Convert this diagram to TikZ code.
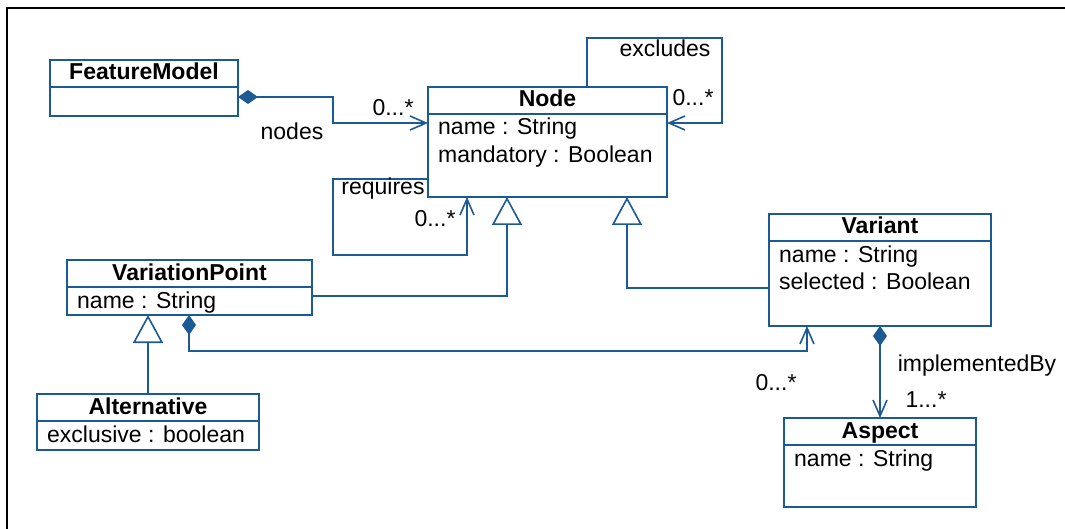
\documentclass[tikz,border=0pt]{standalone}
\usepackage{fontspec}
\setmainfont{Liberation Sans}
\usetikzlibrary{arrows.meta}

\definecolor{umlblue}{RGB}{28,90,150}
\newcommand{\umlfont}{\fontsize{23}{28}\selectfont}
\tikzstyle{classbox}=[draw=umlblue,line width=1.6pt,rectangle,anchor=north west,inner sep=0pt,outer sep=0pt]
\tikzstyle{classname}=[font=\umlfont\bfseries,anchor=base,inner sep=0pt]
\tikzstyle{attr}=[anchor=base west,inner sep=0pt]
\tikzstyle{role}=[anchor=base,inner sep=0pt]
\tikzstyle{link}=[draw=umlblue,line width=1.6pt]
\tikzstyle{inherit}=[link,-{Triangle[open,length=28pt,width=30pt]}]
\tikzstyle{owns}=[link,{Diamond[length=20pt,width=14pt]}-{Straight Barb[length=16pt,width=14pt]}]
\tikzstyle{refers}=[link,-{Straight Barb[length=16pt,width=14pt]}]
\newcommand{\hdrsep}{27pt}

\begin{document}
\begin{tikzpicture}[x=1pt,y=-1pt,font=\umlfont]
    \useasboundingbox (0,0) rectangle (1065,529);
    % Frame round the diagram
    \draw[line width=2.5pt] (1065,8) -- (7,8) -- (7,529);
    % First we draw the classes
    \foreach \name/\x/\y/\w/\h/\title in {featuremodel/50/60/188/56/FeatureModel, nodeclass/428/87/239/110/Node, varpoint/67/260/245/55/VariationPoint, alternative/37/394/222/56/Alternative, variant/769/214/222/112/Variant, aspect/784/418/192/89/Aspect} {
        \node[classbox,minimum width=\w pt,minimum height=\h pt] (\name) at (\x,\y) {};
        \draw[link] ([yshift=-\hdrsep]\name.north west) -- ([yshift=-\hdrsep]\name.north east);
        \node[classname] (\name-title) at ([yshift=-20pt]\name.north) {\title};
    }
    % Attributes
    \foreach \cls/\i/\txt in {nodeclass/1/name : String, nodeclass/2/mandatory : Boolean, varpoint/1/name : String, alternative/1/exclusive : boolean, variant/1/name : String, variant/2/selected : Boolean, aspect/1/name : String}
        \node[attr] (\cls-attr\i) at ([xshift=10pt,yshift=-20pt-28pt*\i]\cls.north west) {\txt};
    % Connect classes
    \draw[owns] ([yshift=-37pt]featuremodel.north east) -- ++(95,0) |- ([yshift=-36pt]nodeclass.north west);
    \draw[refers] ([xshift=159pt]nodeclass.north west) -- ++(0,-49) -- ++(135,0) |- ([yshift=-36pt]nodeclass.north east);
    \draw[refers] ([yshift=-92pt]nodeclass.north west) -- ++(-95,0) -- ++(0,76) -| ([xshift=39pt]nodeclass.south west);
    \draw[inherit] ([yshift=-36pt]varpoint.north east) -| ([xshift=79pt]nodeclass.south west);
    \draw[inherit] ([yshift=-74pt]variant.north west) -| ([xshift=199pt]nodeclass.south west);
    \draw[inherit] (alternative.north) -- (alternative.north |- varpoint.south);
    \draw[owns] ([xshift=122pt]varpoint.south west) -- ++(0,36) -| ([xshift=38pt]variant.south west);
    \draw[owns] (variant.south) -- (aspect.north);
    % Roles and multiplicities
    \foreach \x/\y/\name/\txt in {393/116/nodesmult/{0...*}, 292/140/nodesrole/{nodes}, 665/57/excrole/{excludes}, 693/106/excmult/{0...*}, 383/195/reqrole/{requires}, 435/227/reqmult/{0...*}, 776/390/varmult/{0...*}, 977/371/implrole/{implementedBy}, 926/407/implmult/{1...*}}
        \node[role] (\name) at (\x,\y) {\txt};
\end{tikzpicture}
\end{document}
